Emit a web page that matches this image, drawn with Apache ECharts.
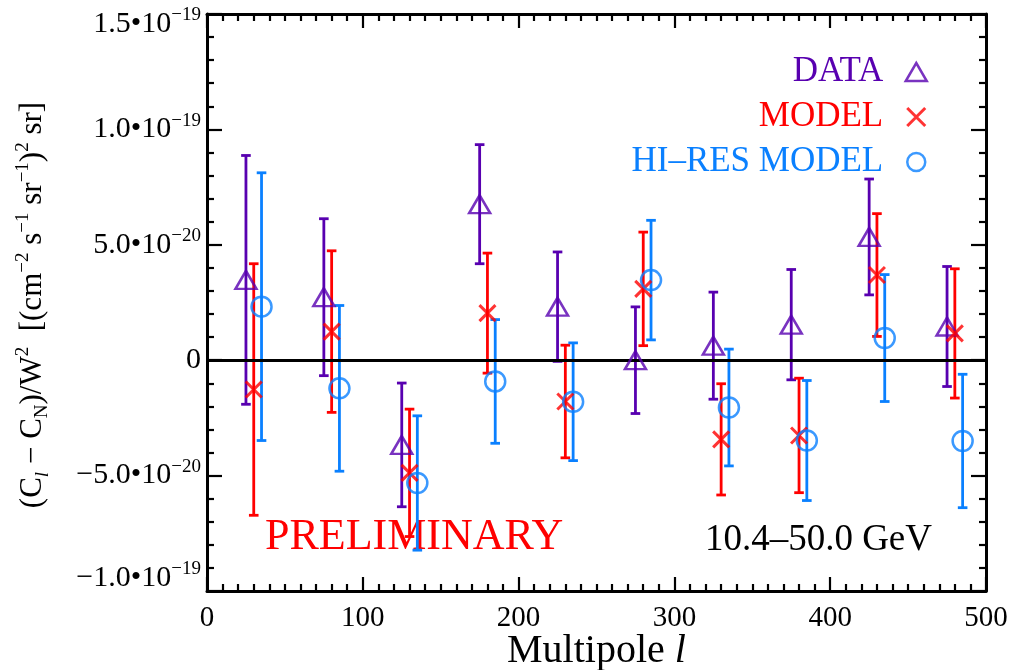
<!DOCTYPE html>
<html>
<head>
<meta charset="utf-8">
<title>Angular power spectrum residuals, 10.4–50.0 GeV</title>
<script src="https://cdn.jsdelivr.net/npm/echarts@6/dist/echarts.min.js"></script>
<style>
  html, body { margin: 0; padding: 0; background: #fff; }
  #chart { width: 1022px; height: 670px; }
</style>
</head>
<body>
<div id="chart"></div>
<script>
// Multipole bins (the three sets are staggered by 5 in l)
const dataL  = [25, 75, 125, 175, 225, 275, 325, 375, 425, 475];
const modelL = [30, 80, 130, 180, 230, 280, 330, 380, 430, 480];
const hiresL = [35, 85, 135, 185, 235, 285, 335, 385, 435, 485];

// (C_l - C_N)/W^2 in units of 1e-20 (cm^-2 s^-1 sr^-1)^2 sr, with 1-sigma errors
const dataVal  = [3.48, 2.73, -3.67, 6.76, 2.32, 0.00, 0.63, 1.54, 5.34, 1.46];
const dataErr  = [5.39, 3.40, 2.68, 2.58, 2.37, 2.31, 2.32, 2.39, 2.51, 2.60];
const modelVal = [-1.27, 1.24, -4.88, 2.04, -1.79, 3.09, -3.43, -3.26, 3.69, 1.16];
const modelErr = [5.45, 3.50, 2.76, 2.60, 2.44, 2.46, 2.41, 2.48, 2.66, 2.80];
const hiresVal = [2.32, -1.22, -5.32, -0.92, -1.80, 3.47, -2.05, -3.48, 0.96, -3.50];
const hiresErr = [5.80, 3.59, 2.91, 2.68, 2.55, 2.59, 2.53, 2.60, 2.75, 2.89];

// Axis ticks (y in units of 1e-20)
const xTicks = [0, 100, 200, 300, 400, 500];
const yTicks = [-10, -5, 0, 5, 10, 15];
const yTickMantissa = ['\u22121.0', '\u22125.0', '0', '5.0', '1.0', '1.5'];
const yTickExponent = ['\u221219', '\u221220', '', '\u221220', '\u221219', '\u221219'];

const SERIF = '"Liberation Serif", "Times New Roman", serif';
const PURPLE = '#5800B0';
const RED = '#FF0000';
const BLUE = '#0A80FF';
const CLEAR = 'rgba(0,0,0,0)';
const X_SYMBOL = 'path://M0,0L10,10M0,10L10,0';

const chart = echarts.init(document.getElementById('chart'));

function pairs(ls, vals) { return ls.map((l, i) => [l, vals[i]]); }
function triples(ls, vals, errs) { return ls.map((l, i) => [l, vals[i], errs[i]]); }

function errorBars(name, color, ls, vals, errs) {
  return {
    type: 'custom',
    name: name,
    silent: true,
    z: 3,
    encode: { x: 0, y: 1 },
    data: triples(ls, vals, errs),
    renderItem: function (params, api) {
      const x = api.value(0), v = api.value(1), e = api.value(2);
      const top = api.coord([x, v + e]);
      const bot = api.coord([x, v - e]);
      const cap = 4.8;
      const st = { stroke: color, lineWidth: 2.8 };
      return {
        type: 'group',
        children: [
          { type: 'line', shape: { x1: top[0], y1: top[1], x2: bot[0], y2: bot[1] }, style: st },
          { type: 'line', shape: { x1: top[0] - cap, y1: top[1], x2: top[0] + cap, y2: top[1] }, style: st },
          { type: 'line', shape: { x1: bot[0] - cap, y1: bot[1], x2: bot[0] + cap, y2: bot[1] }, style: st }
        ]
      };
    }
  };
}

const tickLine = { color: '#000', width: 2.2 };
function xAxisDef(pos, showLabels) {
  return {
    type: 'value', position: pos, min: xTicks[0], max: xTicks[xTicks.length - 1],
    interval: xTicks[1] - xTicks[0],
    axisLine: { show: true, onZero: false, lineStyle: { color: '#000', width: 3 } },
    axisTick: { show: true, inside: true, length: 14, lineStyle: tickLine },
    minorTick: { show: true, splitNumber: 10, length: 7, lineStyle: tickLine },
    splitLine: { show: false },
    axisLabel: {
      show: showLabels, margin: 13, fontFamily: SERIF, fontSize: 29, color: '#000',
      showMinLabel: true, showMaxLabel: true
    }
  };
}
function yAxisDef(pos, showLabels) {
  const last = yTicks.length - 1;
  const main = { fontFamily: SERIF, fontSize: 30, color: '#000', lineHeight: 36, verticalAlign: 'middle' };
  const sup = { fontFamily: SERIF, fontSize: 19, color: '#000', lineHeight: 12, verticalAlign: 'top' };
  return {
    type: 'value', position: pos, min: yTicks[0], max: yTicks[last],
    interval: yTicks[1] - yTicks[0],
    axisLine: { show: true, onZero: false, lineStyle: { color: '#000', width: 3 } },
    axisTick: { show: true, inside: true, length: 15, lineStyle: tickLine },
    minorTick: { show: true, splitNumber: 5, length: 7, lineStyle: tickLine },
    splitLine: { show: false },
    axisLabel: {
      show: showLabels, margin: 6, showMinLabel: true, showMaxLabel: true,
      formatter: function (value) {
        const i = yTicks.indexOf(Math.round(value));
        const man = yTickMantissa[i], ex = yTickExponent[i];
        let s = ex ? '{m|' + man + '\u202210}{s|' + ex + '}' : '{m|' + man + '}';
        // the end labels sit just inside the frame
        if (i === last) s = '{gt| }\n' + s;
        if (i === 0) s = s + '\n{gb| }';
        return s;
      },
      rich: {
        m: main,
        s: sup,
        gt: { fontSize: 8, lineHeight: 20 },
        gb: { fontSize: 8, lineHeight: 26 }
      }
    }
  };
}

const xMain = xAxisDef('bottom', true);
xMain.name = '{a|Multipole }{i|l}';
xMain.nameLocation = 'middle';
xMain.nameMoveOverlap = false;
xMain.nameGap = 40;
xMain.nameTextStyle = {
  rich: {
    a: { fontFamily: SERIF, fontSize: 40, color: '#000' },
    i: { fontFamily: SERIF, fontSize: 40, color: '#000', fontStyle: 'italic' }
  }
};

const option = {
  animation: false,
  backgroundColor: '#fff',
  grid: { left: 207, right: 36, top: 14, bottom: 79, containLabel: false, outerBoundsMode: 'none' },
  xAxis: [xMain, xAxisDef('top', false)],
  yAxis: [yAxisDef('left', true), yAxisDef('right', false)],
  legend: {
    orient: 'vertical', right: 89, top: 47, align: 'right',
    itemGap: 5, itemWidth: 21, itemHeight: 18, selectedMode: false,
    textStyle: { fontFamily: SERIF, fontSize: 35, lineHeight: 40 },
    formatter: function (name) { return name + '\u00a0\u00a0'; },
    data: [
      { name: 'DATA', icon: 'triangle',
        itemStyle: { color: CLEAR, borderColor: PURPLE, borderWidth: 2.5 }, textStyle: { color: PURPLE } },
      { name: 'MODEL', icon: X_SYMBOL,
        itemStyle: { color: CLEAR, borderColor: RED, borderWidth: 3 }, textStyle: { color: RED } },
      { name: 'HI\u2013RES MODEL', icon: 'circle',
        itemStyle: { color: CLEAR, borderColor: BLUE, borderWidth: 2.5 }, textStyle: { color: BLUE } }
    ]
  },
  graphic: [
    {
      type: 'text', x: 33, y: 305, rotation: Math.PI / 2, silent: true,
      style: {
        text: '{m|(C}{i|l}{m| \u2212 C}{b|N}{m|)/W}{p|2}{m|  [(cm}{p|\u22122}{m| s}{p|\u22121}{m| sr}{p|\u22121}{m|)}{p|2}{m| sr]}',
        align: 'center', verticalAlign: 'middle',
        rich: {
          m: { fontFamily: SERIF, fontSize: 31, fill: '#000', lineHeight: 38, verticalAlign: 'middle' },
          i: { fontFamily: SERIF, fontSize: 19, fill: '#000', lineHeight: 22, verticalAlign: 'bottom', fontStyle: 'italic' },
          b: { fontFamily: SERIF, fontSize: 19, fill: '#000', lineHeight: 22, verticalAlign: 'bottom' },
          p: { fontFamily: SERIF, fontSize: 19, fill: '#000', lineHeight: 16, verticalAlign: 'top' }
        }
      }
    },
    {
      type: 'text', x: 265, y: 537, silent: true,
      style: { text: 'PRELIMINARY', fontFamily: SERIF, fontSize: 44, fill: RED, align: 'left', verticalAlign: 'middle' }
    },
    {
      type: 'text', x: 932, y: 540, silent: true,
      style: { text: '10.4\u201350.0 GeV', fontFamily: SERIF, fontSize: 37, fill: '#000', align: 'right', verticalAlign: 'middle' }
    }
  ],
  series: [
    errorBars('DATA errors', PURPLE, dataL, dataVal, dataErr),
    errorBars('MODEL errors', RED, modelL, modelVal, modelErr),
    errorBars('HI-RES errors', BLUE, hiresL, hiresVal, hiresErr),
    {
      type: 'scatter', name: 'DATA', z: 5, silent: true,
      data: pairs(dataL, dataVal),
      symbol: 'triangle', symbolSize: [21, 18],
      itemStyle: { color: CLEAR, borderColor: PURPLE, borderWidth: 2.5 },
      markLine: {
        silent: true, symbol: 'none', label: { show: false },
        lineStyle: { color: '#000', width: 3, type: 'solid' },
        data: [{ yAxis: 0 }]
      }
    },
    {
      type: 'scatter', name: 'MODEL', z: 5, silent: true,
      data: pairs(modelL, modelVal),
      symbol: X_SYMBOL, symbolSize: 16,
      itemStyle: { color: CLEAR, borderColor: RED, borderWidth: 3 }
    },
    {
      type: 'scatter', name: 'HI\u2013RES MODEL', z: 5, silent: true,
      data: pairs(hiresL, hiresVal),
      symbol: 'circle', symbolSize: 20,
      itemStyle: { color: CLEAR, borderColor: BLUE, borderWidth: 2.5 }
    }
  ]
};

chart.setOption(option);
</script>
</body>
</html>
